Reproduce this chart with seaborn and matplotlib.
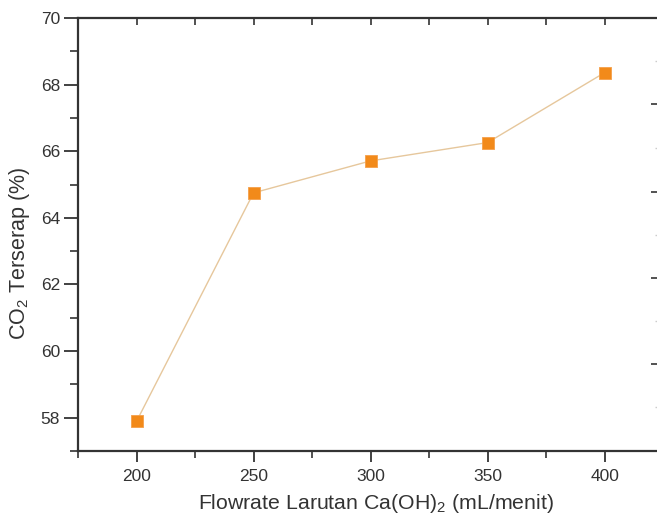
import matplotlib
matplotlib.use("Agg")
import matplotlib.pyplot as plt
import seaborn as sns
import pandas as pd
from matplotlib.ticker import MultipleLocator, FixedLocator

flowrate = [200, 250, 300, 350, 400]
co2_terserap = [57.89, 64.75, 65.71, 66.26, 68.36]
x_ticks = [200, 250, 300, 350, 400]
y_ticks = [58, 60, 62, 64, 66, 68, 70]

df = pd.DataFrame({"flow": flowrate, "co2": co2_terserap})

sns.set_style("white")
plt.rcParams['font.family'] = ['Liberation Sans', 'DejaVu Sans']
plt.rcParams['mathtext.fontset'] = 'custom'
plt.rcParams['mathtext.rm'] = 'Liberation Sans'

TXT = "#333333"
fig = plt.figure(figsize=(6.57, 5.19), dpi=100)
ax = fig.add_axes([78/657, 68/519, 580/657, 433/519])

sns.lineplot(data=df, x="flow", y="co2", ax=ax, color="#e6c79c", linewidth=1.0)
sns.scatterplot(data=df, x="flow", y="co2", ax=ax, marker="s", s=65,
                color="#f28a1a", edgecolor="#f5a04a", linewidth=0.6, zorder=5)

ax.set_xlim(175, 422.8)
ax.set_ylim(57, 70)
ax.set_xticks(x_ticks)
ax.set_yticks(y_ticks)
ax.xaxis.set_minor_locator(MultipleLocator(25))
ax.yaxis.set_minor_locator(MultipleLocator(1))

for name, s in ax.spines.items():
    s.set_color(TXT)
    s.set_linewidth(1.6)
ax.spines["right"].set_visible(False)

ax.tick_params(axis="x", which="major", bottom=True, top=False, direction="out",
               length=8, width=1.3, colors=TXT, labelsize=12.5, labelcolor=TXT, pad=5)
ax.tick_params(axis="x", which="minor", bottom=True, top=False, direction="out",
               length=5, width=1.2, colors=TXT)
ax.tick_params(axis="y", which="major", left=True, right=False, direction="out",
               length=10, width=1.3, colors=TXT, labelsize=12.5, labelcolor=TXT, pad=3)
ax.tick_params(axis="y", which="minor", left=True, right=False, direction="out",
               length=6, width=1.2, colors=TXT)

# top inward ticks
axt = ax.twiny()
axt.set_xlim(ax.get_xlim())
axt.set_xticks(x_ticks)
axt.xaxis.set_minor_locator(MultipleLocator(25))
axt.tick_params(axis="x", which="both", top=True, bottom=False, direction="in",
                length=5, width=1.2, colors=TXT, labeltop=False)
for s in axt.spines.values():
    s.set_visible(False)

# faint tick marks from the neighbouring (cropped) axis at the right edge
right_major = [347, 259, 173, 87]
right_minor = [390, 303, 216, 130, 44]
axr = ax.twinx()
axr.set_ylim(0, 433)
axr.yaxis.set_major_locator(FixedLocator(right_major))
axr.yaxis.set_minor_locator(FixedLocator(right_minor))
axr.tick_params(axis="y", which="major", right=True, left=False, direction="in",
                length=5, width=1.3, colors="#444444", labelright=False)
axr.tick_params(axis="y", which="minor", right=True, left=False, direction="in",
                length=2, width=1.0, colors="#cccccc", labelright=False)
for s in axr.spines.values():
    s.set_visible(False)

ax.set_xlabel("Flowrate Larutan Ca(OH)$_2$ (mL/menit)", fontsize=15.3, color=TXT)
ax.set_ylabel("CO$_2$ Terserap (%)", fontsize=15.5, color=TXT)
ax.xaxis.set_label_coords(0.514, -0.095)
ax.yaxis.set_label_coords(-0.080, 0.457)

fig.savefig("out.png", dpi=100)
